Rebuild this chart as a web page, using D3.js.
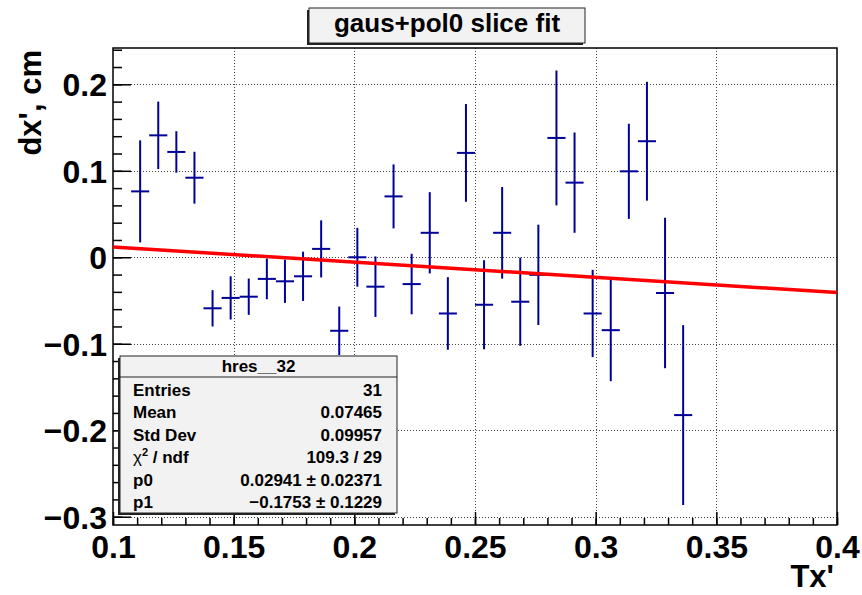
<!DOCTYPE html>
<html>
<head>
<meta charset="utf-8">
<script src="https://cdn.jsdelivr.net/npm/d3@7"></script>
<style>
  body { margin: 0; background: #fff; }
  svg { display: block; font-family: "Liberation Sans", Arial, Helvetica, sans-serif; font-weight: bold; }
</style>
</head>
<body>
<svg id="chart" width="862" height="595"></svg>
<script>
// slice fit results, one entry per bin
const binX = [0.11125, 0.11875, 0.12625, 0.13375, 0.14125, 0.14875, 0.15625, 0.16375,
              0.17125, 0.17875, 0.18625, 0.19375, 0.20125, 0.20875, 0.21625, 0.22375,
              0.23125, 0.23875, 0.24625, 0.25375, 0.26125, 0.26875, 0.27625, 0.28375,
              0.29125, 0.29875, 0.30625, 0.31375, 0.32125, 0.32875, 0.33625]
const binY = [0.0762, 0.141, 0.1218, 0.092, -0.059, -0.047, -0.0456, -0.025,
              -0.0278, -0.022, 0.0097, -0.085, 0.000, -0.034, 0.0704, -0.031,
              0.0283, -0.065, 0.1207, -0.0549, 0.0283, -0.0514, -0.0203, 0.138,
              0.0863, -0.065, -0.0843, 0.0994, 0.1342, -0.0413, -0.1825]
const binErr = [0.059, 0.039, 0.024, 0.030, 0.021, 0.025, 0.021, 0.0235,
                0.025, 0.0285, 0.033, 0.028, 0.034, 0.035, 0.037, 0.035,
                0.047, 0.042, 0.0565, 0.0515, 0.053, 0.051, 0.058, 0.078,
                0.058, 0.0505, 0.059, 0.055, 0.0687, 0.087, 0.104]
const binWidth = 0.0075

// pol1 fit
const p0 = 0.02941
const p1 = -0.1753
const fitRange = [0.1, 0.4]

const xTicks = [0.1, 0.15, 0.2, 0.25, 0.3, 0.35, 0.4]
const yTicks = [-0.3, -0.2, -0.1, 0, 0.1, 0.2]

const statsTitle = 'hres__32'
const statLabels = ['Entries', 'Mean', 'Std Dev', 'chi2', 'p0', 'p1']
const statValues = ['31', '0.07465', '0.09957', '109.3 / 29', '0.02941 \u00b1 0.02371', '\u22120.1753 \u00b1 0.1229']

const chartTitle = 'gaus+pol0 slice fit'
const xTitle = "Tx'"
const yTitle = "dx', cm"

const svg = d3.select('#chart')
const fLeft = 113, fRight = 837, fTop = 48, fBottom = 525

const x = d3.scaleLinear().domain([0.1, 0.4]).range([fLeft, fRight])
const y = d3.scaleLinear().domain([-0.3096, 0.242]).range([fBottom, fTop])

svg.append('rect').attr('width', 862).attr('height', 595).attr('fill', '#fff')

// grid
const grid = svg.append('g').attr('stroke', '#444').attr('stroke-width', 1).attr('stroke-dasharray', '1,2')
grid.selectAll('.gx').data(xTicks.slice(1, -1)).enter().append('line')
    .attr('x1', d => Math.round(x(d)) + 0.5).attr('x2', d => Math.round(x(d)) + 0.5)
    .attr('y1', fTop).attr('y2', fBottom)
grid.selectAll('.gy').data(yTicks).enter().append('line')
    .attr('y1', d => Math.round(y(d)) + 0.5).attr('y2', d => Math.round(y(d)) + 0.5)
    .attr('x1', fLeft).attr('x2', fRight)

// axes: minor then major ticks, drawn inward
const fmt = d => d3.format('~g')(d)
const xMinor = svg.append('g').attr('transform', `translate(0,${fBottom})`)
    .call(d3.axisBottom(x).ticks(30).tickSize(-7).tickFormat(''))
const xMajor = svg.append('g').attr('transform', `translate(0,${fBottom})`)
    .call(d3.axisBottom(x).tickValues(xTicks).tickSize(-13).tickPadding(10).tickFormat(fmt))
const yMinor = svg.append('g').attr('transform', `translate(${fLeft},0)`)
    .call(d3.axisLeft(y).ticks(27).tickSize(-9).tickFormat(''))
const yMajor = svg.append('g').attr('transform', `translate(${fLeft},0)`)
    .call(d3.axisLeft(y).tickValues(yTicks).tickSize(-18).tickPadding(6).tickFormat(fmt))

;[xMinor, xMajor, yMinor, yMajor].forEach(function (g) {
    g.select('.domain').remove()
    g.selectAll('.tick line').attr('stroke', '#000').attr('stroke-width', 1.5)
    g.selectAll('.tick text').attr('fill', '#000').attr('font-size', 32)
        .attr('font-family', '"Liberation Sans", Arial, sans-serif').attr('font-weight', 'bold')
})
yMajor.selectAll('.tick text').attr('dy', '0.36em')

// frame
svg.append('rect').attr('x', fLeft).attr('y', fTop).attr('width', fRight - fLeft).attr('height', fBottom - fTop)
    .attr('fill', 'none').attr('stroke', '#000').attr('stroke-width', 1.5)

// points with error bars
const pts = svg.append('g').attr('stroke', '#000099').attr('stroke-width', 2)
binX.forEach(function (bx, i) {
    pts.append('line').attr('x1', x(bx)).attr('x2', x(bx))
        .attr('y1', y(binY[i] - binErr[i])).attr('y2', y(binY[i] + binErr[i]))
    pts.append('line').attr('x1', x(bx - binWidth / 2)).attr('x2', x(bx + binWidth / 2))
        .attr('y1', y(binY[i])).attr('y2', y(binY[i]))
})

// fit line
const fitLine = d3.line().x(d => x(d)).y(d => y(p0 + p1 * d))
svg.append('path').datum(fitRange).attr('d', fitLine)
    .attr('fill', 'none').attr('stroke', '#ff0000').attr('stroke-width', 3.5)

// stats box
const sb = { x: 120, y: 356, w: 277, h: 157, head: 21 }
const stats = svg.append('g').attr('font-size', 17)
stats.append('rect').attr('x', sb.x - 2).attr('y', sb.y + 2).attr('width', sb.w).attr('height', sb.h).attr('fill', '#222')
stats.append('rect').attr('x', sb.x).attr('y', sb.y).attr('width', sb.w).attr('height', sb.h)
    .attr('fill', '#f2f2f2').attr('stroke', '#222').attr('stroke-width', 1)
stats.append('line').attr('x1', sb.x).attr('x2', sb.x + sb.w).attr('y1', sb.y + sb.head).attr('y2', sb.y + sb.head)
    .attr('stroke', '#222').attr('stroke-width', 1)
stats.append('text').attr('x', sb.x + sb.w / 2).attr('y', sb.y + 16).attr('text-anchor', 'middle').text(statsTitle)
statLabels.forEach(function (lab, i) {
    const ty = 396 + i * 22.4
    const t = stats.append('text').attr('x', 133).attr('y', ty)
    if (lab === 'chi2') {
        t.append('tspan').attr('font-weight', 'normal').text('\u03c7')
        t.append('tspan').attr('font-size', 11).attr('dy', -7).text('2')
        t.append('tspan').attr('dy', 7).text(' / ndf')
    } else {
        t.text(lab)
    }
    stats.append('text').attr('x', 382).attr('y', ty).attr('text-anchor', 'end').text(statValues[i])
})

// title box
const tb = { x: 309, y: 8, w: 276, h: 35 }
svg.append('rect').attr('x', tb.x - 2).attr('y', tb.y + 2).attr('width', tb.w).attr('height', tb.h).attr('fill', '#222')
svg.append('rect').attr('x', tb.x).attr('y', tb.y).attr('width', tb.w).attr('height', tb.h)
    .attr('fill', '#f2f2f2').attr('stroke', '#222').attr('stroke-width', 1)
svg.append('text').attr('x', tb.x + tb.w / 2).attr('y', 32).attr('text-anchor', 'middle')
    .attr('font-size', 26).text(chartTitle)

// axis titles
svg.append('text').attr('x', 834).attr('y', 587).attr('text-anchor', 'end').attr('font-size', 31).text(xTitle)
svg.append('text').attr('transform', 'translate(41,50) rotate(-90)').attr('text-anchor', 'end')
    .attr('font-size', 31).text(yTitle)
</script>
</body>
</html>
